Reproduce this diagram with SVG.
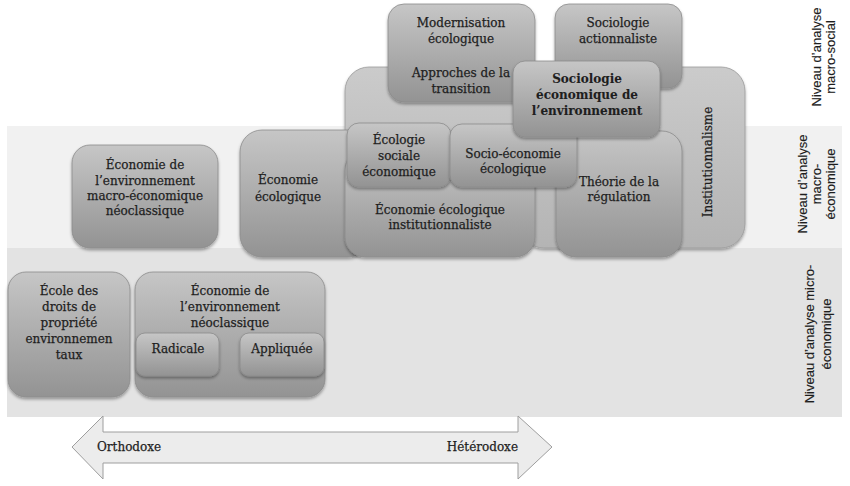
<svg xmlns="http://www.w3.org/2000/svg" width="850" height="486" viewBox="0 0 850 486">
<defs>
<linearGradient id="g" x1="0" y1="0" x2="0" y2="1">
<stop offset="0" stop-color="#c6c6c6"/>
<stop offset="1" stop-color="#939393"/>
</linearGradient>
<linearGradient id="gl" x1="0" y1="0" x2="0" y2="1">
<stop offset="0" stop-color="#cbcbcb"/>
<stop offset="1" stop-color="#b4b4b4"/>
</linearGradient>
<filter id="sh" x="-10%" y="-10%" width="120%" height="125%">
<feDropShadow dx="0" dy="2" stdDeviation="1.6" flood-color="#000" flood-opacity="0.35"/>
</filter>
</defs>
<style>
.b{fill:url(#g);stroke:#8c8c8c;stroke-width:0.8;filter:url(#sh)}
.bl{fill:url(#gl);stroke:#9a9a9a;stroke-width:0.8;filter:url(#sh)}
text{font-family:"DejaVu Serif","Liberation Serif",serif;font-size:12px;fill:#1e1e1e;stroke:#1e1e1e;stroke-width:0.25;text-anchor:middle}
.bold{font-weight:bold;stroke-width:0.1}
.lab{font-family:"Liberation Sans","Noto Sans",sans-serif;font-size:13px;fill:#1e1e1e;stroke-width:0.15}
</style>
<rect width="850" height="486" fill="#ffffff"/>
<g id="bands">
<rect x="7" y="126" width="835" height="122" fill="#f1f1f1"/>
<rect x="7" y="248" width="835" height="169" fill="#e3e3e3"/>
</g>
<g id="labels">
<text class="lab" transform="translate(821,57) rotate(-90)">Niveau d’analyse</text>
<text class="lab" transform="translate(835,57) rotate(-90)">macro-social</text>
<text class="lab" transform="translate(807,184) rotate(-90)">Niveau d’analyse</text>
<text class="lab" transform="translate(821,184) rotate(-90)">macro-</text>
<text class="lab" transform="translate(835,184) rotate(-90)">économique</text>
<text class="lab" transform="translate(814,334) rotate(-90)">Niveau d’analyse micro-</text>
<text class="lab" transform="translate(831,334) rotate(-90)">économique</text>
</g>
<g id="approches"><rect class="bl" x="345" y="67" width="255" height="173" rx="24"/></g>
<g id="institutionnalisme"><rect class="bl" x="520" y="67" width="225" height="181" rx="24"/>
<text transform="translate(712,162) rotate(-90)">Institutionnalisme</text></g>
<g id="economie-ecologique"><rect class="b" x="240" y="130" width="130" height="127" rx="22"/>
<text x="288" y="184">Économie</text><text x="288" y="201">écologique</text></g>
<g id="eei"><rect class="b" x="345" y="150" width="190" height="107" rx="20"/>
<text x="440" y="214">Économie écologique</text><text x="440" y="229">institutionnaliste</text></g>
<g id="ecologie-sociale"><rect class="b" x="347" y="123" width="104" height="64" rx="12"/>
<text x="399" y="144">Écologie</text><text x="399" y="160">sociale</text><text x="399" y="176">économique</text></g>
<g id="theorie"><rect class="b" x="556" y="131" width="126" height="126" rx="20"/>
<text x="619" y="186">Théorie de la</text><text x="619" y="201">régulation</text></g>
<g id="socio-economie"><rect class="b" x="450" y="124" width="127" height="63" rx="12"/>
<text x="513" y="158">Socio-économie</text><text x="513" y="173">écologique</text></g>
<g id="modernisation"><rect class="b" x="388" y="4" width="147" height="98" rx="16"/>
<text x="461" y="27">Modernisation</text><text x="461" y="43">écologique</text>
<text x="461" y="77">Approches de la</text><text x="461" y="93">transition</text></g>
<g id="sociologie-actionnaliste"><rect class="b" x="555" y="4" width="127" height="84" rx="14"/>
<text x="618" y="27">Sociologie</text><text x="618" y="43">actionnaliste</text></g>
<g id="sociologie-economique"><rect class="b" x="513" y="61" width="147" height="76" rx="12"/>
<text class="bold" x="587" y="83">Sociologie</text><text class="bold" x="587" y="99">économique de</text><text class="bold" x="587" y="115">l’environnement</text></g>
<g id="eco-env-macro"><rect class="b" x="72" y="145" width="146" height="103" rx="18"/>
<text x="145" y="169">Économie de</text><text x="145" y="185">l’environnement</text><text x="145" y="200">macro-économique</text><text x="145" y="215">néoclassique</text></g>
<g id="ecole-droits"><rect class="b" x="8" y="272" width="122" height="125" rx="18"/>
<text x="69" y="295">École des</text><text x="69" y="311">droits de</text><text x="69" y="327">propriété</text><text x="69" y="343">environnemen</text><text x="69" y="359">taux</text></g>
<g id="eco-env-neo"><rect class="b" x="135" y="272" width="190" height="125" rx="18"/>
<text x="230" y="295">Économie de</text><text x="230" y="311">l’environnement</text><text x="230" y="327">néoclassique</text></g>
<g id="radicale"><rect class="b" x="136" y="333" width="83" height="43" rx="9"/>
<text x="178" y="353">Radicale</text></g>
<g id="appliquee"><rect class="b" x="240" y="333" width="84" height="43" rx="9"/>
<text x="282" y="353">Appliquée</text></g>
<g id="connectors">
<polygon points="72,447 103,416 103,432 518,432 518,416 552,447 518,479 518,463 103,463 103,479" fill="#ececec" stroke="#9e9e9e" stroke-width="1"/>
<text x="97" y="451" style="text-anchor:start">Orthodoxe</text>
<text x="518" y="451" style="text-anchor:end">Hétérodoxe</text>
</g>
</svg>
